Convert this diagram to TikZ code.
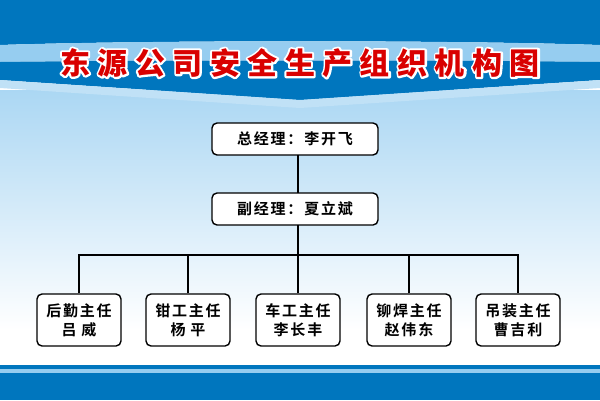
\documentclass[tikz,border=0pt]{standalone}
\usepackage{fontspec}
\newfontfamily\cjk{Noto Sans CJK SC Bold}
\newfontfamily\cjkt[LetterSpace=25]{Noto Sans CJK SC Black}
\newfontfamily\cjkb[LetterSpace=12]{Noto Sans CJK SC Bold}
\newcommand{\outl}[1]{\special{pdf:literal direct q 1 Tr 4 w 1 1 1 RG 1 j}#1\special{pdf:literal direct Q}}
\begin{document}
\begin{tikzpicture}[x=1pt,y=-1pt,
  box/.style={draw=black,line width=1.4pt,rounded corners=5pt,fill=white,font=\cjkb\fontsize{15}{19}\selectfont,align=center,inner sep=0pt},
  ln/.style={line width=1.3pt}]
\useasboundingbox (0,0) rectangle (600,400);
\definecolor{dk}{RGB}{0,118,190}
\definecolor{lt}{RGB}{150,205,240}
\shade[top color=lt!80,bottom color=white] (0,90) rectangle (600,330);
\fill[white] (0,330) rectangle (600,365);
% top band
\fill[dk] (0,0) -- (600,0) -- (600,45) .. controls (450,40) and (150,40) .. (0,45) -- cycle;
\fill[lt] (0,45) .. controls (150,40) and (450,40) .. (600,45) -- (600,62) .. controls (450,60) and (150,60) .. (0,62) -- cycle;
\fill[dk] (0,62) .. controls (150,60) and (450,60) .. (600,62) -- (600,80) -- (300,100) -- (0,80) -- cycle;
\fill[lt!60] (0,80) -- (300,100) -- (600,80) -- (600,88) -- (300,108) -- (0,88) -- cycle;
% bottom
\fill[dk] (0,365) rectangle (600,369);
\fill[lt] (0,369) rectangle (600,373);
\fill[dk] (0,373) rectangle (600,400);
% title
\node[red!85!black,font=\cjkt\fontsize{30}{34}\selectfont] (title) at (300,63) {\rlap{\outl{东源公司安全生产组织机构图}}东源公司安全生产组织机构图};
% boxes
\node[box,minimum width=166pt,minimum height=32pt] (gm) at (295,139) {总经理：李开飞};
\node[box,minimum width=166pt,minimum height=32pt] (dgm) at (295,209) {副经理：夏立斌};
\node[box,minimum width=84pt,minimum height=52pt] (a) at (79,320) {后勤主任\\吕\,\,威};
\node[box,minimum width=84pt,minimum height=52pt] (b) at (188,320) {钳工主任\\杨\,\,平};
\node[box,minimum width=84pt,minimum height=52pt] (c) at (298,320) {车工主任\\李长丰};
\node[box,minimum width=84pt,minimum height=52pt] (d) at (409,320) {铆焊主任\\赵伟东};
\node[box,minimum width=84pt,minimum height=52pt] (e) at (518,320) {吊装主任\\曹吉利};
\coordinate (j) at (298,255);
\draw[ln] (298,155) -- (298,193);
\draw[ln] (298,225) -- (j);
\draw[ln] (a.north) -- (79,255) -- (518,255) -- (e.north);
\foreach \n in {b,c,d} \draw[ln] (\n.north) -- (\n.north |- j);
\end{tikzpicture}
\end{document}
